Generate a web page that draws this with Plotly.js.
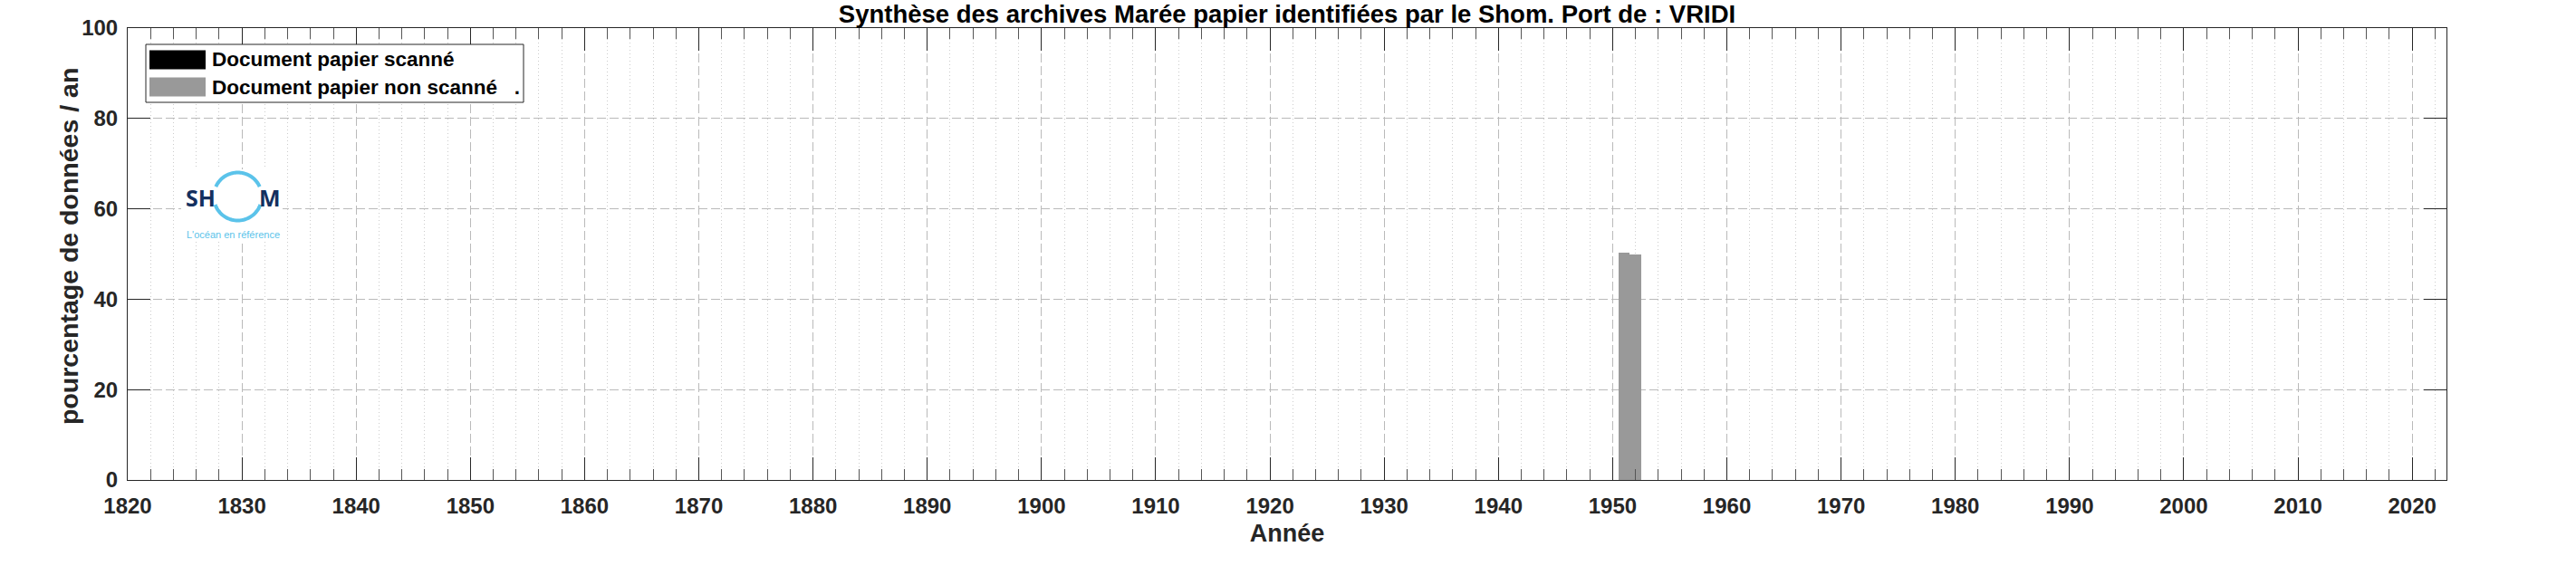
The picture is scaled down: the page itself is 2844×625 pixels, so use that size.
<!DOCTYPE html>
<html>
<head>
<meta charset="utf-8">
<script src="https://cdn.plot.ly/plotly-3.0.1.min.js"></script>
<style>
  html, body { margin: 0; padding: 0; background: #ffffff; }
  #chart { width: 2844px; height: 625px; }
</style>
</head>
<body>
<div id="chart"></div>
<script>
// ---- Data ----
const years = [1951, 1952];
const scanned = [0, 0];
const nonScanned = [50.3, 49.9];
const seriesNames = ['Document papier scanné', 'Document papier non scanné\u00a0\u00a0\u00a0.'];
const seriesColors = ['#000000', '#999999'];
const titleText = 'Synthèse des archives Marée papier identifiées par le Shom. Port de : VRIDI';
const xTitle = 'Année';
const yTitle = 'pourcentage de données / an';
const logoWords = ['SH', 'M', "L'océan en référence"];

// ---- Layout geometry (pixels) ----
const W = 2844, H = 625;
const mL = 141, mR = 143, mT = 31, mB = 95;
const plotW = W - mL - mR, plotH = H - mT - mB;
const px = v => (v - mL) / plotW;           // pixel x -> paper x
const py = v => (H - mB - v) / plotH;       // pixel y -> paper y

const FONT = 'Liberation Sans, Arial, Helvetica, sans-serif';
const TXT = '#262626';

const traces = [
  { type: 'bar', x: years, y: scanned, name: seriesNames[0], width: 1,
    marker: { color: seriesColors[0], line: { width: 0 } }, showlegend: false },
  { type: 'bar', x: years, y: nonScanned, name: seriesNames[1], width: 1,
    marker: { color: seriesColors[1], line: { width: 0 } }, showlegend: false }
];

const shapes = [];
const annotations = [];

// Legend (custom, to match large swatches)
shapes.push({ type: 'rect', xref: 'paper', yref: 'paper',
  x0: px(161), x1: px(578), y0: py(49), y1: py(113),
  line: { color: TXT, width: 1 }, fillcolor: '#ffffff', layer: 'above' });
const legRows = [66, 96];
legRows.forEach((cy, i) => {
  shapes.push({ type: 'rect', xref: 'paper', yref: 'paper',
    x0: px(165), x1: px(227), y0: py(cy - 10.5), y1: py(cy + 10.5),
    line: { width: 0 }, fillcolor: seriesColors[i], layer: 'above' });
  annotations.push({ xref: 'paper', yref: 'paper', x: px(232), y: py(cy),
    xanchor: 'left', yanchor: 'middle', showarrow: false, text: seriesNames[i],
    font: { family: FONT, size: 22.5, color: '#000000', weight: 700 } });
});

// Logo
shapes.push({ type: 'rect', xref: 'paper', yref: 'paper',
  x0: px(200), x1: px(312), y0: py(187), y1: py(266),
  line: { width: 0 }, fillcolor: '#ffffff', layer: 'above' });
function arc(cx, cy, r, a0, a1) {
  let d = '';
  const n = 40;
  for (let k = 0; k <= n; k++) {
    const a = (a0 + (a1 - a0) * k / n) * Math.PI / 180;
    const x = px(cx + r * Math.cos(a));
    const y = py(cy - r * Math.sin(a));
    d += (k === 0 ? 'M' : 'L') + x.toFixed(6) + ',' + y.toFixed(6);
  }
  return d;
}
[[24, 156], [200, 340]].forEach(([a0, a1]) => {
  shapes.push({ type: 'path', xref: 'paper', yref: 'paper',
    path: arc(262.5, 217, 26.5, a0, a1),
    line: { color: '#5bc3ea', width: 4 }, layer: 'above' });
});
annotations.push({ xref: 'paper', yref: 'paper', x: px(221.5), y: py(218),
  xanchor: 'center', yanchor: 'middle', showarrow: false, text: logoWords[0],
  font: { family: 'Open Sans, ' + FONT, size: 25, color: '#14305f', weight: 700 } });
annotations.push({ xref: 'paper', yref: 'paper', x: px(297.5), y: py(218),
  xanchor: 'center', yanchor: 'middle', showarrow: false, text: logoWords[1],
  font: { family: 'Open Sans, ' + FONT, size: 25, color: '#14305f', weight: 700 } });
annotations.push({ xref: 'paper', yref: 'paper', x: px(257), y: py(259),
  xanchor: 'center', yanchor: 'middle', showarrow: false, text: logoWords[2],
  font: { family: FONT, size: 11, color: '#5bc3ea' } });

// Y axis title (as annotation for exact placement)
annotations.push({ xref: 'paper', yref: 'paper', x: px(76), y: py(272),
  xanchor: 'center', yanchor: 'middle', showarrow: false, textangle: -90, text: yTitle,
  font: { family: FONT, size: 28.5, color: TXT, weight: 700 } });

const layout = {
  width: W, height: H,
  margin: { l: mL, r: mR, t: mT, b: mB, pad: 0 },
  paper_bgcolor: '#ffffff', plot_bgcolor: '#ffffff',
  barmode: 'stack', bargap: 0,
  showlegend: false,
  font: { family: FONT, size: 24, color: TXT },
  title: { text: titleText, x: 0.5, xref: 'paper', xanchor: 'center',
    y: 1 - 15 / H, yref: 'container', yanchor: 'middle',
    font: { family: FONT, size: 27.5, color: '#000000', weight: 700 } },
  xaxis: {
    range: [1820, 2023], tick0: 1820, dtick: 10, tickmode: 'linear',
    ticks: 'inside', ticklen: 25, tickwidth: 1, tickcolor: TXT,
    showline: true, linecolor: TXT, linewidth: 1, mirror: 'allticks',
    showgrid: true, gridcolor: '#bababa', gridwidth: 1, griddash: '10px,4px',
    zeroline: false,
    tickfont: { family: FONT, size: 24, color: TXT, weight: 700 },
    ticklabelstandoff: 7,
    minor: { dtick: 2, tick0: 1820, ticks: 'inside', ticklen: 12, tickwidth: 1, tickcolor: '#555555',
      showgrid: true, gridcolor: '#cccccc', gridwidth: 1, griddash: '1px,3px' },
    title: { text: xTitle, standoff: 8,
      font: { family: FONT, size: 27, color: TXT, weight: 700 } },
    fixedrange: true
  },
  yaxis: {
    range: [0, 100], tick0: 0, dtick: 20, tickmode: 'linear',
    ticks: 'inside', ticklen: 25, tickwidth: 1, tickcolor: TXT,
    showline: true, linecolor: TXT, linewidth: 1, mirror: 'allticks',
    showgrid: true, gridcolor: '#bababa', gridwidth: 1, griddash: '10px,4px',
    zeroline: false,
    tickfont: { family: FONT, size: 24, color: TXT, weight: 700 },
    ticklabelstandoff: 5,
    fixedrange: true
  },
  shapes: shapes,
  annotations: annotations
};

Plotly.newPlot('chart', traces, layout, { displayModeBar: false, staticPlot: true });
</script>
</body>
</html>
